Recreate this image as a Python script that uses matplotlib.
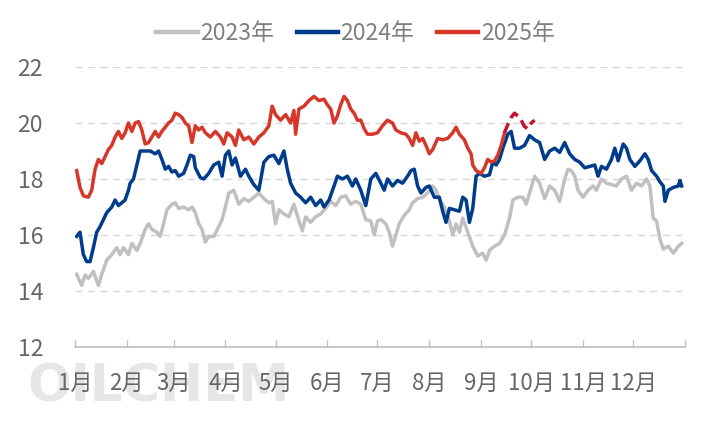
import matplotlib
matplotlib.use("Agg")
import matplotlib.pyplot as plt

plt.rcParams['font.family'] = ['Noto Sans CJK SC', 'DejaVu Sans']

# --------------------------------------------------
# Data (day of year, value)
# --------------------------------------------------
days_2023 = [1, 4, 6, 8, 11, 14, 16, 19, 22, 25, 27, 29, 32, 34, 37, 39, 42, 44, 46, 49,
             51, 53, 55, 58, 60, 62, 65, 68, 70, 72, 74, 76, 78, 80, 83, 86, 88, 90, 92, 95,
             98, 101, 104, 107, 110, 113, 116, 118, 120, 122, 125, 128, 131, 134, 136, 138,
             141, 144, 147, 150, 153, 156, 159, 162, 165, 168, 171, 174, 177, 179, 181, 183,
             186, 188, 190, 192, 194, 197, 200, 202, 205, 208, 211, 214, 216, 218, 221, 224,
             226, 228, 230, 232, 235, 238, 241, 244, 246, 248, 251, 254, 257, 260, 262, 265,
             268, 270, 272, 275, 278, 281, 284, 287, 290, 293, 295, 297, 299, 301, 304, 307,
             310, 312, 315, 318, 321, 324, 327, 330, 333, 336, 339, 342, 344, 346, 348, 350,
             352, 355, 358, 361, 363]
vals_2023 = [14.6, 14.2, 14.57, 14.45, 14.7, 14.2, 14.6, 15.1, 15.3, 15.55, 15.3, 15.55, 15.3,
             15.7, 15.45, 15.7, 16.2, 16.4, 16.2, 16.1, 15.95, 16.4, 16.9, 17.1, 17.15, 16.95,
             17.0, 16.9, 17.0, 16.8, 16.4, 16.2, 15.75, 15.95, 15.95, 16.3, 16.55, 17.0, 17.5,
             17.6, 17.1, 17.3, 17.2, 17.35, 17.5, 17.3, 17.15, 17.2, 16.4, 16.9, 16.75, 16.65,
             17.1, 16.5, 16.15, 16.65, 16.45, 16.65, 16.75, 16.95, 17.2, 17.05, 17.35, 17.4,
             17.1, 17.2, 17.1, 16.55, 16.5, 16.0, 16.5, 16.55, 16.4, 16.1, 15.6, 16.0, 16.4,
             16.7, 16.9, 17.15, 17.3, 17.35, 17.5, 17.75, 17.6, 17.25, 17.0, 16.5, 16.0, 16.4,
             16.1, 16.6, 16.1, 15.6, 15.25, 15.35, 15.1, 15.45, 15.6, 15.7, 16.0, 16.6, 17.25,
             17.35, 17.35, 17.1, 17.5, 18.1, 17.85, 17.3, 17.75, 17.6, 17.2, 18.0, 18.35, 18.3,
             18.1, 17.6, 17.35, 17.6, 17.75, 17.6, 18.0, 17.85, 17.8, 17.75, 18.0, 18.1, 17.6,
             17.85, 17.75, 18.0, 17.75, 16.6, 16.5, 15.85, 15.5, 15.6, 15.35, 15.6, 15.7]

days_2024 = [1, 3, 5, 7, 9, 11, 13, 15, 17, 19, 22, 24, 26, 28, 30, 32, 33, 35, 37, 39, 42,
             45, 48, 50, 52, 54, 56, 58, 60, 62, 65, 67, 69, 71, 72, 75, 77, 80, 83, 86, 88,
             90, 92, 94, 96, 99, 102, 104, 107, 110, 113, 116, 119, 122, 125, 127, 129, 132,
             135, 138, 141, 144, 147, 149, 152, 155, 157, 160, 163, 166, 168, 171, 174, 177,
             180, 183, 185, 187, 190, 193, 196, 199, 201, 203, 205, 207, 210, 212, 215, 218,
             220, 222, 224, 227, 230, 232, 234, 236, 238, 240, 242, 245, 248, 250, 252, 254,
             256, 259, 261, 263, 266, 269, 272, 275, 278, 281, 284, 287, 290, 293, 296, 299,
             302, 305, 308, 311, 313, 315, 318, 321, 323, 325, 328, 330, 332, 335, 338, 341,
             343, 345, 348, 350, 352, 353, 355, 358, 361, 362, 363]
vals_2024 = [15.95, 16.1, 15.3, 15.05, 15.05, 15.55, 16.1, 16.3, 16.55, 16.8, 17.0, 17.25,
             17.05, 17.15, 17.25, 17.6, 17.85, 18.0, 18.5, 19.0, 19.0, 19.0, 18.9, 19.0, 18.7,
             18.35, 18.45, 18.25, 18.3, 18.1, 18.2, 18.5, 18.85, 18.8, 18.4, 18.05, 18.0, 18.2,
             18.5, 18.6, 18.1, 18.85, 19.0, 18.5, 18.75, 18.1, 18.35, 18.1, 17.8, 17.6, 18.6,
             18.8, 18.85, 18.55, 19.0, 18.35, 17.85, 17.5, 17.35, 17.15, 17.35, 17.05, 17.25,
             17.0, 17.25, 17.75, 18.1, 18.0, 18.1, 17.75, 18.0, 17.6, 17.05, 18.0, 18.2, 17.85,
             17.6, 18.0, 17.75, 17.95, 17.85, 18.1, 18.3, 18.35, 17.75, 17.5, 17.7, 17.75,
             17.35, 17.35, 16.85, 16.45, 16.95, 16.9, 16.85, 17.35, 17.25, 16.45, 16.95, 18.1,
             18.2, 18.1, 18.15, 18.6, 18.5, 18.7, 19.1, 19.6, 19.7, 19.1, 19.1, 19.2, 19.55,
             19.4, 19.3, 18.7, 19.0, 19.1, 18.95, 19.3, 18.9, 18.7, 18.6, 18.4, 18.45, 18.5,
             18.1, 18.45, 18.35, 18.7, 19.1, 18.65, 19.25, 19.1, 18.7, 18.45, 18.65, 18.9,
             18.7, 18.3, 18.1, 17.9, 17.75, 17.2, 17.6, 17.7, 17.75, 17.95, 17.75]

days_2025 = [1, 3, 5, 8, 10, 12, 14, 16, 18, 20, 22, 24, 26, 28, 30, 32, 34, 36, 38, 40, 42,
             44, 46, 48, 50, 52, 54, 56, 58, 60, 62, 64, 66, 68, 70, 72, 74, 76, 78, 81, 84,
             87, 89, 91, 92, 94, 96, 98, 101, 104, 107, 110, 113, 116, 118, 120, 123, 126,
             129, 131, 132, 134, 137, 140, 143, 146, 149, 151, 153, 155, 157, 159, 161, 163,
             165, 167, 169, 171, 173, 175, 178, 181, 184, 187, 190, 192, 195, 198, 200, 202,
             204, 206, 208, 210, 212, 214, 217, 220, 223, 226, 228, 230, 233, 235, 237, 238,
             240, 243, 245, 247, 249, 251, 253, 255, 257]
vals_2025 = [18.3, 17.7, 17.4, 17.35, 17.6, 18.35, 18.7, 18.55, 18.8, 19.05, 19.2, 19.5, 19.7,
             19.45, 19.65, 20.0, 19.7, 20.0, 20.05, 19.75, 19.25, 19.3, 19.5, 19.7, 19.5, 19.7,
             19.85, 20.0, 20.1, 20.35, 20.3, 20.2, 20.0, 19.9, 19.3, 19.9, 19.75, 19.85, 19.65,
             19.5, 19.7, 19.5, 19.25, 19.65, 19.6, 19.5, 19.2, 19.75, 19.4, 19.5, 19.25, 19.5,
             19.65, 19.9, 20.6, 20.3, 20.1, 20.3, 20.0, 20.45, 19.6, 20.5, 20.6, 20.8, 20.95,
             20.8, 20.85, 20.65, 20.5, 20.0, 20.25, 20.65, 20.95, 20.8, 20.5, 20.35, 20.1,
             20.1, 19.8, 19.6, 19.6, 19.65, 19.9, 20.1, 20.0, 19.75, 19.65, 19.6, 19.45, 19.2,
             19.65, 19.35, 19.45, 19.2, 18.9, 19.05, 19.45, 19.4, 19.45, 19.65, 19.85, 19.6,
             19.4, 19.1, 18.9, 18.5, 18.3, 18.2, 18.4, 18.7, 18.6, 18.65, 18.85, 19.2, 19.65]

# latest 2025 values, shown dashed
days_2025_dash = [257, 259, 261, 263, 265, 267, 269, 271, 273, 275]
vals_2025_dash = [19.65, 19.95, 20.2, 20.35, 20.25, 20.1, 19.87, 19.8, 20.0, 20.1]

month_starts = [0, 31, 59, 90, 120, 151, 181, 212, 243, 273, 304, 334, 365]
month_labels = ["1月", "2月", "3月", "4月", "5月", "6月", "7月", "8月", "9月",
                "10月", "11月", "12月", ""]

# --------------------------------------------------
# Figure
# --------------------------------------------------
fig = plt.figure(figsize=(7.21, 4.32), dpi=100)
ax = fig.add_axes([75 / 721, 1 - 347 / 432, 610 / 721, 280 / 432])
ax.set_zorder(1)
ax.patch.set_alpha(0)

# watermark behind the axis labels
fig.text(28 / 721, 1 - 402 / 432, "OILCHEM", family="DejaVu Sans",
         fontweight="bold", fontsize=37, color="#E6E6E6", zorder=0)

ax.plot(days_2023, vals_2023, color="#C0C0C0", lw=2.5, label="2023年", zorder=3)
ax.plot(days_2024, vals_2024, color="#003C8C", lw=2.5, label="2024年", zorder=4)
ax.plot(days_2025, vals_2025, color="#D7372B", lw=2.5, label="2025年", zorder=5)
ax.plot(days_2025_dash, vals_2025_dash, color="#C4122F", lw=2.5,
        linestyle=(0, (3, 1.6)), zorder=5)

# --------------------------------------------------
# Formatting
# --------------------------------------------------
ax.set_xlim(0, 365)
ax.set_ylim(12, 22)
ax.set_yticks([12, 14, 16, 18, 20, 22])
ax.set_xticks(month_starts)
ax.set_xticklabels(month_labels)

ax.grid(True, axis="y", color="#D6D6D6", lw=1.0, linestyle=(0, (5, 4)))
for side in ["top", "right", "left"]:
    ax.spines[side].set_visible(False)
ax.spines["bottom"].set_color("#BFBFBF")
ax.spines["bottom"].set_linewidth(1.2)

ax.tick_params(axis="y", length=0, pad=23, labelsize=16.5, labelcolor="#666666")
ax.tick_params(axis="x", direction="in", length=5, color="#BFBFBF", width=1.0,
               pad=18, labelsize=16, labelcolor="#666666")

fig.legend(loc="center", bbox_to_anchor=(0.493, 0.922), ncol=3, frameon=False,
           fontsize=16.5, labelcolor="#7F7F7F", handlelength=1.8,
           handletextpad=0.1, columnspacing=1.0)
for line in fig.legends[0].get_lines():
    line.set_linewidth(3.2)

fig.savefig("out.png", dpi=100)
